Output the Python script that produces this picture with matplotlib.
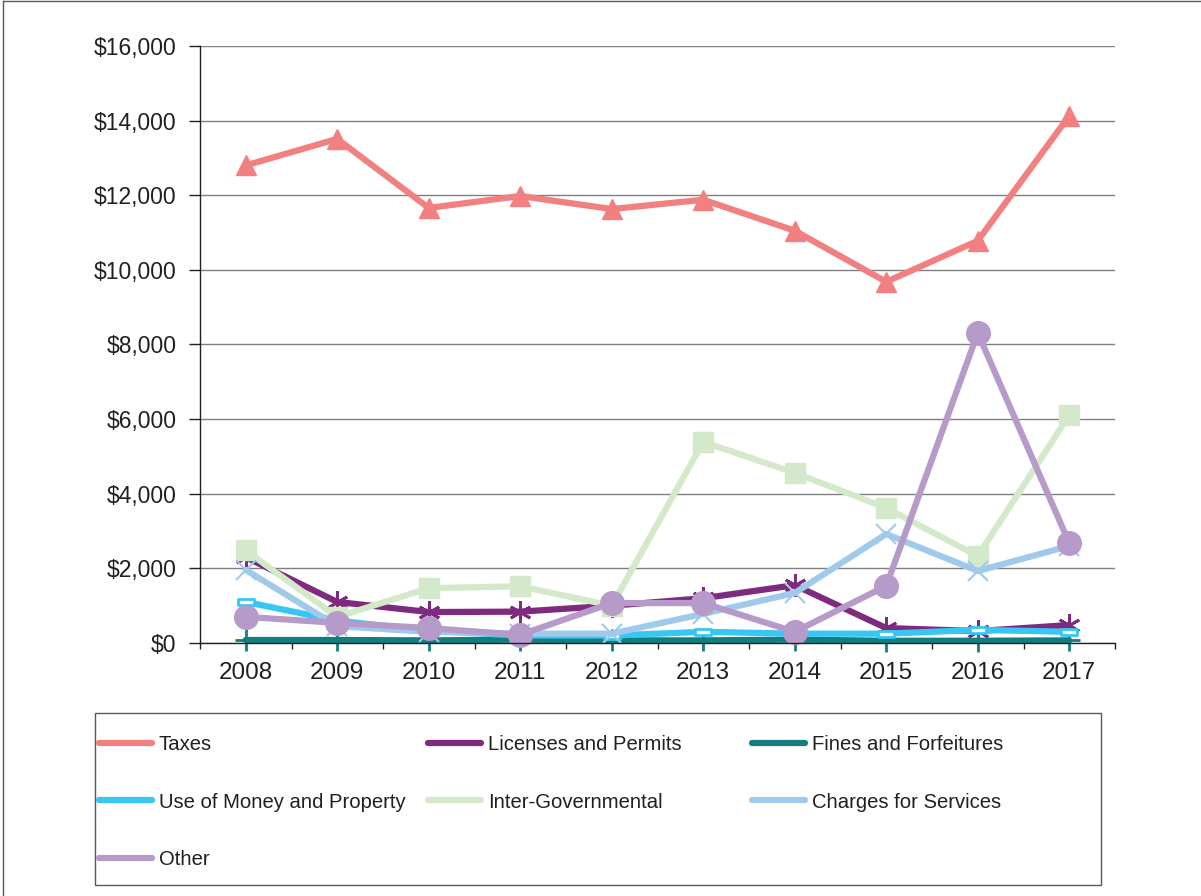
import matplotlib.pyplot as plt
from matplotlib.lines import Line2D
from matplotlib.patches import Rectangle
from matplotlib.path import Path
from matplotlib.ticker import FuncFormatter, MultipleLocator

plt.rcParams['font.family'] = ['Liberation Sans', 'DejaVu Sans']

years = [2008, 2009, 2010, 2011, 2012, 2013, 2014, 2015, 2016, 2017]
taxes = [12800, 13510, 11660, 11980, 11630, 11880, 11050, 9680, 10780, 14130]
licenses = [2300, 1100, 830, 840, 1000, 1200, 1550, 400, 320, 480]
fines = [80, 80, 70, 90, 70, 70, 90, 60, 60, 70]
use_money = [1100, 600, 330, 200, 200, 300, 250, 250, 350, 300]
intergov = [2480, 700, 1470, 1520, 1000, 5390, 4560, 3620, 2330, 6110]
charges = [1960, 450, 300, 250, 250, 780, 1340, 2920, 1930, 2600]
other = [700, 540, 400, 220, 1070, 1070, 300, 1530, 8310, 2680]

W, H = 1201, 896
fig = plt.figure(figsize=(W / 100, H / 100), dpi=100)
ax = fig.add_axes([200 / W, (H - 643) / H, 915 / W, 597 / H])

# hollow flat rectangle like excel's marker
rect_marker = Path([(-1, -0.4), (1, -0.4), (1, 0.4), (-1, 0.4), (-1, -0.4)],
                   [Path.MOVETO, Path.LINETO, Path.LINETO, Path.LINETO, Path.CLOSEPOLY])

lw = 4.5
series = [
    ("Taxes", taxes, "#F28080", dict(marker="^", ms=14)),
    ("Licenses and Permits", licenses, "#7E2A7F", dict(marker=(6, 2, 0), ms=16, mew=2)),
    ("Fines and Forfeitures", fines, "#117F80", dict(marker="+", ms=16, mew=2)),
    ("Use of Money and Property", use_money, "#38C6F4", dict(marker=rect_marker, ms=12, mew=2, mfc="white")),
    ("Inter-Governmental", intergov, "#D4E9C9", dict(marker="s", ms=15)),
    ("Charges for Services", charges, "#A0CAEB", dict(marker="x", ms=15, mew=1.5)),
    ("Other", other, "#B69AC9", dict(marker="o", ms=17)),
]

handles = {}
for name, vals, col, mk in series:
    h, = ax.plot(years, vals, color=col, lw=lw, label=name, solid_capstyle="round",
                 mec=col, mfc=mk.pop("mfc", col), clip_on=False, **mk)
    handles[name] = h

ax.set_xlim(2007.5, 2017.5)
ax.set_ylim(0, 16000)
ax.set_xticks(years)
ax.set_xticks([y - 0.5 for y in years] + [2017.5], minor=True)
ax.tick_params(axis="x", which="major", length=0, pad=14, labelsize=17.5, colors="#231F20")
ax.tick_params(axis="x", which="minor", length=4, width=1, color="#231F20", direction="out")
ax.yaxis.set_major_locator(MultipleLocator(2000))
ax.yaxis.set_major_formatter(FuncFormatter(lambda v, p: f"${v:,.0f}"))
ax.tick_params(axis="y", length=8, width=1, pad=9, labelsize=16.5, colors="#231F20")
ax.grid(axis="y", color="#7F7F7F", lw=1)
ax.set_axisbelow(True)
for s in ["top", "right"]:
    ax.spines[s].set_visible(False)
for s in ["left", "bottom"]:
    ax.spines[s].set_color("#231F20")
    ax.spines[s].set_linewidth(1)

# legend: three columns, fixed places like the original
cols = [["Taxes", "Use of Money and Property", "Other"],
        ["Licenses and Permits", "Inter-Governmental"],
        ["Fines and Forfeitures", "Charges for Services"]]
col_x = [99, 428, 752]
for names, x in zip(cols, col_x):
    leg = fig.legend([handles[n] for n in names], names, loc="upper left",
                     bbox_to_anchor=(x / W, 1 - 735 / H), frameon=False,
                     fontsize=14.6, handlelength=2.6, handletextpad=0.35,
                     labelspacing=1.9, borderpad=0, borderaxespad=0)
    for t in leg.get_texts():
        t.set_color("#231F20")
    for lh in leg.legend_handles:
        lh.set_marker("")
fig.add_artist(Rectangle((95 / W, 1 - 885 / H), 1006 / W, 172 / H, transform=fig.transFigure,
                         fill=False, edgecolor="#595959", lw=1))

# outer frame pieces
fig.add_artist(Line2D([3 / W, 3 / W], [0, 1 - 1 / H], transform=fig.transFigure, color="#595959", lw=1))
fig.add_artist(Line2D([3 / W, 1], [1 - 1 / H, 1 - 1 / H], transform=fig.transFigure, color="#595959", lw=1))

fig.savefig("out.png", dpi=100)
